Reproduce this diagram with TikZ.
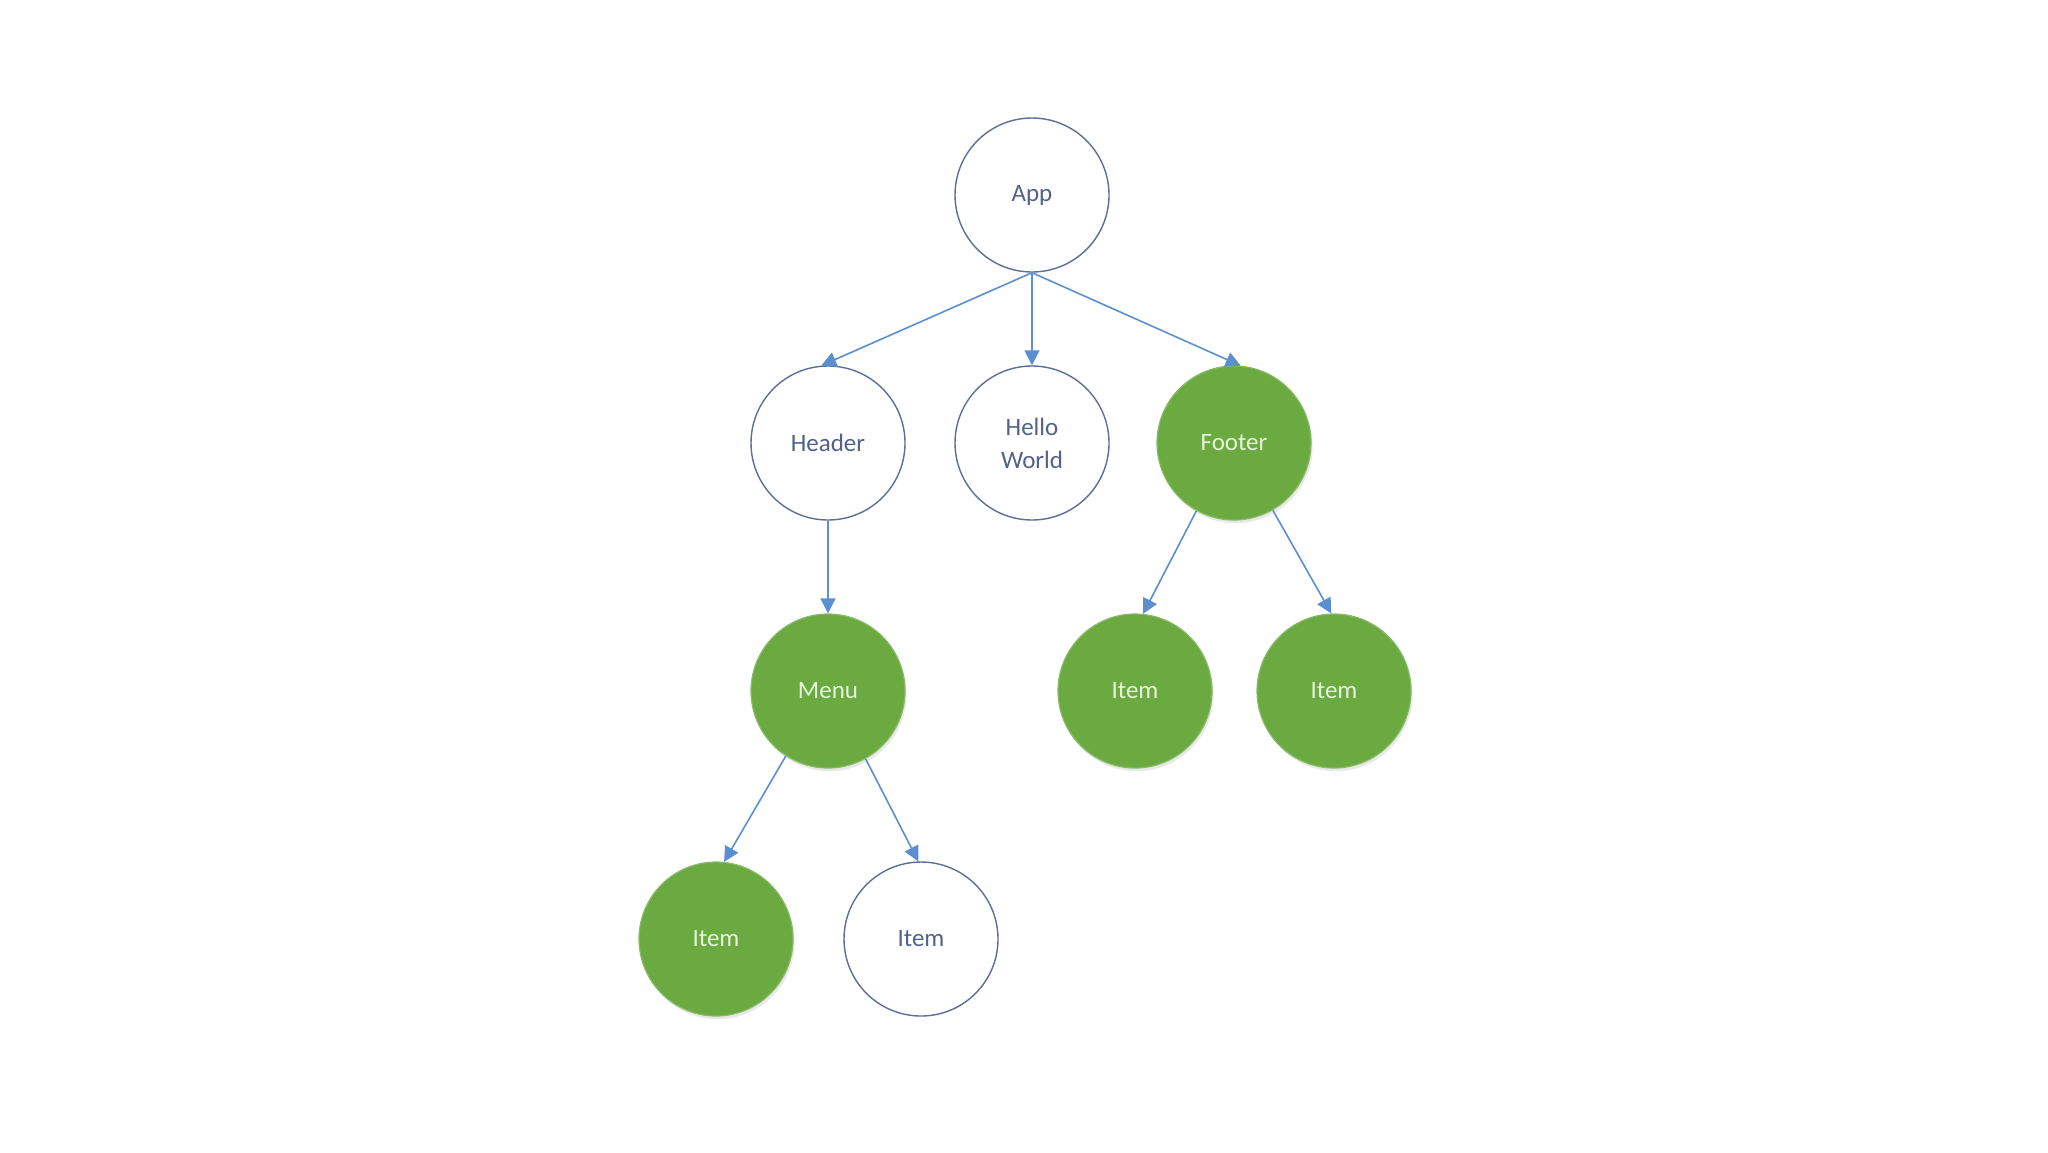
\documentclass[tikz,border=0pt]{standalone}
\usepackage{fontspec}
\setmainfont{Carlito}
\usetikzlibrary{arrows.meta,shadows}
\definecolor{ringc}{HTML}{5B6E96}
\definecolor{txtc}{HTML}{52628A}
\definecolor{greenf}{HTML}{6AAA40}
\definecolor{greent}{HTML}{E6F4DC}
\definecolor{arrc}{HTML}{5B8FCF}
\tikzset{
  plainnode/.style={circle, draw=ringc, line width=0.7pt, fill=white, minimum size=77pt, inner sep=0pt,
    text=txtc, font=\fontsize{12.5}{16.5}\selectfont, align=center},
  greennode/.style={circle, draw=greenf!80!white, line width=0.6pt, fill=greenf, minimum size=77pt, inner sep=0pt,
    text=greent, font=\fontsize{12.5}{16.5}\selectfont, align=center,
    drop shadow={opacity=0.18, shadow xshift=0.8pt, shadow yshift=-1.6pt}},
  link/.style={draw=arrc, line width=0.8pt, -{Triangle[width=7.5pt,length=7.5pt]}}
}
\begin{document}
\begin{tikzpicture}[x=0.5pt,y=-0.5pt]
\useasboundingbox[fill=white] (0,0) rectangle (2048,1152);
\node[plainnode] (app) at (1032,195) {App};
\node[plainnode] (header) at (828,443) {Header};
\node[plainnode] (hello) at (1032,443) {Hello\\World};
\node[greennode] (footer) at (1234,443) {Footer};
\node[greennode] (menu) at (828,691) {Menu};
\node[greennode] (fitem1) at (1135,691) {Item};
\node[greennode] (fitem2) at (1334,691) {Item};
\node[greennode] (mitem1) at (716,939) {Item};
\node[plainnode] (mitem2) at (921,939) {Item};
\draw[link] (app.south) -- (header.95);
\draw[link] (app.south) -- (hello.north);
\draw[link] (app.south) -- (footer.85);
\draw[link] (header.south) -- (menu.north);
\draw[link] (footer.241) -- (fitem1.84);
\draw[link] (footer.300) -- (fitem2.92);
\draw[link] (menu.237) -- (mitem1.84);
\draw[link] (menu.299) -- (mitem2.92);
\end{tikzpicture}
\end{document}
